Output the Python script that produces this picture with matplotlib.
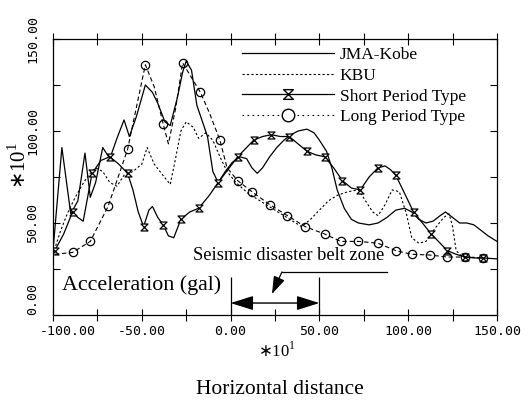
import matplotlib
matplotlib.use("Agg")
import matplotlib.pyplot as plt
import matplotlib.transforms as mtransforms
from matplotlib.lines import Line2D
from matplotlib.path import Path

# ---- data (x in *10^1, y in *10^1) ----
jma_x = [-100, -95, -90, -86, -82, -79, -76, -72, -68, -64, -60, -57, -53, -48, -44, -41,
         -37, -34, -30, -27, -25, -22, -19, -13, -10, -7, -3, 1, 5, 9, 12, 15, 18, 22, 26,
         30, 34, 38, 43, 47, 50, 54, 57, 60, 64, 68, 72, 78, 83, 88, 93, 98, 102, 106, 110,
         114, 118, 121, 125, 129, 133, 137, 141, 145, 150]
jma_y = [35, 91, 55, 62, 88, 64, 72, 91, 85, 96, 106, 97, 108, 125, 121, 115,
         105, 103, 118, 132, 138, 133, 114, 97, 78, 72, 78, 83, 86, 85, 80, 77, 80, 86, 91,
         95, 98, 100, 101, 99, 95, 89, 80, 68, 58, 52, 50, 49, 50, 53, 57, 58, 56, 52, 50,
         51, 54, 56, 53, 50, 50, 49, 46, 43, 40]

kbu_x = [-100, -96, -92, -88, -84, -80, -76, -72, -68, -64, -60, -55, -50, -47, -43, -39,
         -34, -31, -28, -25, -21, -18, -14, -10, -6, -2, 3, 10, 20, 30, 40, 45, 50, 55, 60,
         66, 72, 76, 80, 83, 87, 91, 95, 99, 102, 106, 110, 115, 120, 123, 125, 127, 130, 140]
kbu_y = [33, 45, 55, 63, 70, 76, 80, 78, 72, 70, 76, 78, 82, 91, 82, 77,
         71, 85, 100, 105, 102, 96, 99, 95, 86, 78, 72, 66, 60, 54, 48, 52, 57, 62, 65,
         67, 68, 62, 56, 54, 60, 68, 67, 55, 42, 39, 40, 47, 53, 55, 48, 35, 32, 31]

short_x = [-99, -94, -89, -86, -83, -78, -73, -68, -63, -58, -55, -52, -49, -46, -44, -41,
           -38, -35, -32, -28, -23, -18, -12, -7, 4, 13, 18, 23, 28, 33, 38, 43, 48, 53,
           58, 63, 68, 73, 78, 83, 87, 90, 93, 98, 103, 108, 113, 118, 122, 127, 132, 137,
           142, 150]
short_y = [35, 44, 56, 53, 51, 77, 84, 86, 82, 77, 68, 56, 48, 57, 59, 53,
           49, 43, 42, 52, 56, 58, 65, 72, 86, 95, 97, 98, 97, 97, 93, 89, 87, 86,
           80, 73, 69, 68, 75, 80, 81, 79, 76, 66, 56, 50, 44, 39, 35, 33, 31.5, 31,
           31, 30.5]
short_mx = [-99, -89, -78, -68, -58, -49, -38, -28, -18, -7, 4, 13, 23, 33, 43, 53, 63,
            73, 83, 93, 103, 113, 122, 132, 142]
short_my = [35, 56, 77, 86, 77, 48, 49, 52, 58, 72, 86, 95, 98, 97, 89, 86, 73,
            68, 80, 76, 56, 44, 35, 31.5, 31]

long_x = [-99, -89, -79, -69, -58, -48, -43, -38, -35, -31, -27, -17, -12, -6, -2, 4, 12,
          22, 32, 42, 53, 62, 72, 83, 93, 102, 112, 122, 132, 142]
long_y = [33, 34, 40, 59, 90, 136, 124, 104, 93, 112, 137, 121, 110, 95, 80, 73, 67,
          60, 54, 48, 44, 40, 40, 39, 35, 33, 32.6, 31.5, 31.5, 31]
long_mx = [-89, -79, -69, -58, -48, -38, -27, -17, -6, 4, 12, 22, 32, 42, 53, 62, 72,
           83, 93, 102, 112, 122, 132, 142]
long_my = [34, 40, 59, 90, 136, 104, 137, 121, 95, 73, 67, 60, 54, 48, 44, 40, 40,
           39, 35, 33, 32.6, 31.5, 31.5, 31]

series_names = ["JMA-Kobe", "KBU", "Short Period Type", "Long Period Type"]

x_ticks = [-100, -75, -50, -25, 0, 25, 50, 75, 100, 125, 150]
x_labels = ["-100.00", "", "-50.00", "", "0.00", "", "50.00", "", "100.00", "", "150.00"]
y_ticks = [0, 25, 50, 75, 100, 125, 150]
y_labels = ["0.00", "", "50.00", "", "100.00", "", "150.00"]

# belt zone (0 .. 50 *10^1)
zone = [0, 50]

serif = "Liberation Serif"
mono = "DejaVu Sans Mono"

# hourglass-like marker for the short period curve
hourglass = Path([(-1, 1), (1, 1), (-1, -1), (1, -1), (-1, 1)],
                 [Path.MOVETO, Path.LINETO, Path.LINETO, Path.LINETO, Path.CLOSEPOLY])

fig = plt.figure(figsize=(5.31, 4.01), dpi=100)
ax = fig.add_axes([53 / 531, 86 / 401, 444 / 531, 276 / 401])

lw = 0.9
ax.plot(jma_x, jma_y, color="k", lw=lw)
ax.plot(kbu_x, kbu_y, color="k", lw=0.8, ls=(0, (2, 2)))
ax.plot(short_x, short_y, color="k", lw=lw)
ax.plot(short_mx, short_my, ls="none", marker=hourglass, ms=5, mfc="white", mec="k", mew=0.9)
ax.plot(long_x, long_y, color="k", lw=0.8, ls=(0, (4, 2.5)))
ax.plot(long_mx, long_my, ls="none", marker="o", ms=6, mfc="none", mec="k", mew=0.9)

ax.set_xlim(-100, 150)
ax.set_ylim(0, 150)
ax.set_xticks(x_ticks)
ax.set_xticklabels(x_labels, family=mono, fontsize=9.5)
ax.set_yticks(y_ticks)
ax.set_yticklabels(y_labels, family=mono, fontsize=9.5, rotation=90, va="center")
ax.tick_params(axis="x", direction="inout", length=8, width=0.8, pad=3, top=True)
ax.tick_params(axis="y", direction="in", length=5, width=0.8, pad=10, right=True)
for s in ax.spines.values():
    s.set_linewidth(0.9)

# nudge the two corner labels apart, as in the original
xl0 = ax.get_xticklabels()[0]
xl0.set_transform(xl0.get_transform() + mtransforms.ScaledTranslation(15 / 100, 0, fig.dpi_scale_trans))
yl0 = ax.get_yticklabels()[0]
yl0.set_transform(yl0.get_transform() + mtransforms.ScaledTranslation(0, 16 / 100, fig.dpi_scale_trans))

# legend
handles = [
    Line2D([], [], color="k", lw=lw),
    Line2D([], [], color="k", lw=0.8, ls=(0, (2, 2))),
    Line2D([], [], color="k", lw=lw, marker=hourglass, ms=7, mfc="white", mec="k"),
    Line2D([], [], color="k", lw=0.8, ls=(0, (1.5, 3)), marker="o", ms=9, mfc="white", mec="k"),
]
leg = ax.legend(handles, series_names, loc="upper left", bbox_to_anchor=(0.425, 0.972),
                frameon=False, borderpad=0, borderaxespad=0, handlelength=5.3,
                handletextpad=0.35, labelspacing=0.27, numpoints=1,
                prop={"family": serif, "size": 12.5})

# belt zone annotation
ax.vlines(zone, 0, 20.6, color="k", lw=0.9)
ax.annotate("", xy=(zone[0], 6.5), xytext=(zone[1], 6.5),
            arrowprops=dict(arrowstyle="<|-|>,head_length=0.7,head_width=0.22",
                            color="k", lw=1.0, mutation_scale=20, shrinkA=0, shrinkB=0))
ax.plot([28.9, 88], [23.4, 23.4], color="k", lw=0.9)
ax.annotate("", xy=(23.3, 11.4), xytext=(28.9, 23.4),
            arrowprops=dict(arrowstyle="-|>,head_length=0.6,head_width=0.2",
                            color="k", lw=0.9, mutation_scale=18, shrinkA=0, shrinkB=0))
ax.text(32.5, 32.5, "Seismic disaster belt zone", family=serif, fontsize=13.2,
        ha="center", va="center")
ax.text(-95, 16.3, "Acceleration (gal)", family=serif, fontsize=15.8,
        ha="left", va="center")

# axis labels
fig.text(19 / 531, 1 - 165 / 401, r"$\ast$10$^{\mathregular{1}}$", family=serif,
         fontsize=15, rotation=90, ha="center", va="center")
fig.text(277 / 531, 1 - 351 / 401, r"$\ast$10$^{\mathregular{1}}$", family=serif,
         fontsize=12, ha="center", va="center")
fig.text(280 / 531, 1 - 390 / 401, "Horizontal distance", family=serif,
         fontsize=15.5, ha="center", va="center")

fig.savefig("out.png", dpi=100)
